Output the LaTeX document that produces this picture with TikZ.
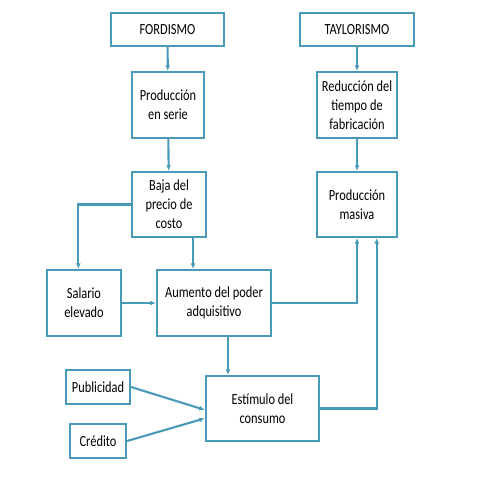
\documentclass[tikz,border=0pt]{standalone}
\usepackage{fontspec}
\setmainfont[FakeStretch = 0.8]{Carlito}
\usetikzlibrary{arrows.meta}

\definecolor{flujo}{RGB}{72,154,184}

\begin{document}
\begin{tikzpicture}[x = 0.025cm, y = -0.025cm, > = {Latex[length=4pt, width=3.5pt]},
	caja/.style = {draw = flujo, line width = 1.5pt, inner sep = 0pt, align = center,
		font = \fontsize{11}{13.5}\selectfont, text = black},
	flecha/.style = {draw = flujo, line width = 1.5pt, ->}]

	\useasboundingbox (0, 0) rectangle (480, 480);

	% Cajas

	\node [caja, minimum width = 2.825cm, minimum height = 0.825cm] (ford) at (167.5, 29.5) {FORDISMO};
	\node [caja, minimum width = 2.85cm, minimum height = 0.825cm] (taylor) at (357, 29.5) {TAYLORISMO};

	\node [caja, minimum width = 1.8cm, minimum height = 1.65cm] (serie) at (168, 105) {Producción\\en serie};
	\node [caja, minimum width = 2.0cm, minimum height = 1.65cm] (reduc) at (357, 105) {Reducción del\\tiempo de\\fabricación};

	\node [caja, minimum width = 1.85cm, minimum height = 1.625cm] (baja) at (169, 204.5) {Baja del\\precio de\\costo};
	\node [caja, minimum width = 2.0cm, minimum height = 1.625cm] (masiva) at (357, 204.5) {Producción\\masiva};

	\node [caja, minimum width = 1.85cm, minimum height = 1.65cm] (salario) at (84, 303) {Salario\\elevado};
	\node [caja, minimum width = 2.85cm, minimum height = 1.65cm] (aumento) at (214, 303) {Aumento del poder\\adquisitivo};

	\node [caja, minimum width = 1.6cm, minimum height = 0.85cm] (publi) at (98, 387) {Publicidad};
	\node [caja, minimum width = 1.4cm, minimum height = 0.85cm] (credito) at (98, 441) {Crédito};
	\node [caja, minimum width = 2.825cm, minimum height = 1.625cm] (estimulo) at (262.5, 408.5) {Estímulo del\\consumo};

	% Flechas

	\draw [flecha] (ford) -- (serie);
	\draw [flecha] (serie) -- (baja);
	\draw [flecha] (taylor) -- (reduc);
	\draw [flecha] (reduc) -- (masiva);

	\draw [flecha] (baja.west) -| ([xshift = -4pt]salario.north);
	\draw [flecha] ([xshift = -10pt]baja.south east) -- ([xshift = -10pt]baja.south east |- aumento.north);
	\draw [flecha] (salario) -- (aumento);
	\draw [flecha] (aumento.east) -| (masiva.south);
	\draw [flecha] ([xshift = 10pt]aumento.south) -- ([xshift = 10pt]aumento.south |- estimulo.north);
	\draw [flecha] (estimulo.east) -| ([xshift = 14pt]masiva.south);

	\draw [flecha] (publi.east) -- ([yshift = -1pt]estimulo.west);
	\draw [flecha] (credito.east) -- ([yshift = -7pt]estimulo.west);

\end{tikzpicture}
\end{document}
